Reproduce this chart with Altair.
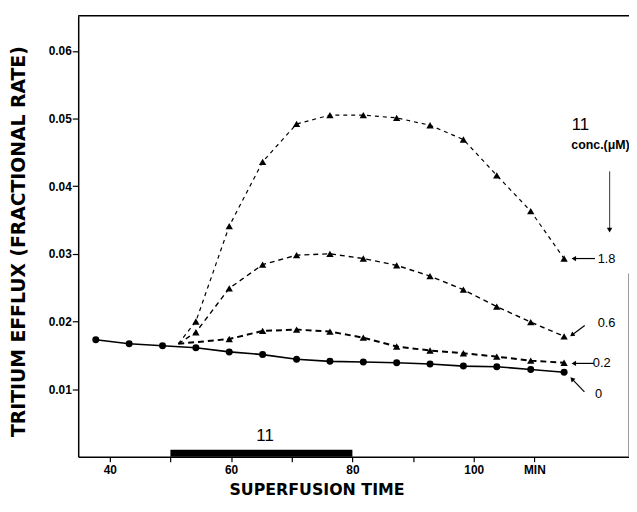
import math
import altair as alt
import pandas as pd

# ---------------- data ----------------
time = [37.7, 43.2, 48.7, 54.2, 59.7, 65.2, 70.8, 76.3, 81.8, 87.3, 92.8, 98.3, 103.8, 109.4, 114.9]
control = [0.0173, 0.0167, 0.0164, 0.0161, 0.0155, 0.0151, 0.0144, 0.0141, 0.0140,
           0.0139, 0.0137, 0.0134, 0.0133, 0.0129, 0.0125]
# drug-treated series (from the 4th sample on)
drug_time = time[3:]
conc_18 = [0.0200, 0.0341, 0.0436, 0.0492, 0.0505, 0.0505, 0.0501, 0.0490, 0.0469, 0.0416, 0.0363, 0.0293]
conc_06 = [0.0184, 0.0249, 0.0284, 0.0298, 0.0300, 0.0293, 0.0283, 0.0267, 0.0247, 0.0222, 0.0199, 0.0178]
conc_02 = [None, 0.0174, 0.0186, 0.0188, 0.0185, 0.0176, 0.0163, 0.0157, 0.0153, 0.0148, 0.0142, 0.0139]
branch_time = 51.3
branch_value = 0.0167

# drug application bar
bar_start = [50]
bar_end = [80]
bar_label = ["11"]

# concentration labels at the right
conc_labels = ["1.8", "0.6", "0.2", "0"]
conc_label_x = [121.9, 121.9, 121.1, 120.6]
conc_label_y = [0.0293, 0.0198, 0.0138, 0.0093]
arrow_tail_x = [120.0, 118.3, 119.8, 118.25]
arrow_tail_y = [0.0293, 0.0194, 0.0138, 0.0096]
arrow_head_x = [116.5, 116.2, 116.5, 116.2]
arrow_head_y = [0.0293, 0.0180, 0.0138, 0.0115]

# axis ticks
x_ticks = [40, 50, 60, 70, 80, 90, 100, 110]
y_ticks = [0.01, 0.02, 0.03, 0.04, 0.05, 0.06]

X_DOMAIN = [34.8, 125.6]
Y_DOMAIN = [0, 0.0652]
W, H = 557, 446

# ---------------- tables ----------------
ctrl_df = pd.DataFrame({"t": time, "v": control})


def drug_frames(vals):
    pts = [(t, v) for t, v in zip(drug_time, vals) if v is not None]
    line = pd.DataFrame([(branch_time, branch_value)] + pts, columns=["t", "v"])
    line["o"] = range(len(line))
    pt = pd.DataFrame(pts, columns=["t", "v"])
    return line, pt


xs = alt.Scale(domain=X_DOMAIN, nice=False, zero=False)
ys = alt.Scale(domain=Y_DOMAIN, nice=False, zero=False)

x_axis = alt.Axis(
    values=x_ticks, format="d",
    labelExpr="datum.value == 110 ? 'MIN' : (datum.value % 20 == 0 ? datum.label : '')",
    title="SUPERFUSION TIME", titleX=241, titleY=25, titleBaseline="top",
    titleAnchor="start", titleAlign="center",
    tickSize=5, labelPadding=3,
)
y_axis = alt.Axis(
    values=y_ticks, format=".2f",
    title="TRITIUM EFFLUX (FRACTIONAL RATE)", titleX=-50, titleY=228,
    titleAngle=270, titleBaseline="bottom", titleAlign="center",
    tickSize=6, labelPadding=1,
)

X = alt.X("t:Q", scale=xs, axis=x_axis)
Y = alt.Y("v:Q", scale=ys, axis=y_axis)

layers = []

# control
layers.append(alt.Chart(ctrl_df).mark_line(color="black", strokeWidth=1.6).encode(x=X, y=Y))
layers.append(alt.Chart(ctrl_df).mark_point(shape="circle", filled=True, color="black",
                                             size=50, opacity=1).encode(x=X, y=Y))

styles = [(conc_18, [4, 4], 1.2), (conc_06, [5, 4], 1.4), (conc_02, [6, 4], 2.0)]
for vals, dash, sw in styles:
    line, pt = drug_frames(vals)
    layers.append(alt.Chart(line).mark_line(color="black", strokeWidth=sw, strokeDash=dash)
                  .encode(x=X, y=Y, order="o:O"))
    layers.append(alt.Chart(pt).mark_point(shape="triangle-up", filled=True, color="black",
                                           size=55, opacity=1).encode(x=X, y=Y))

# bar showing drug application
bar_df = pd.DataFrame({"t": bar_start, "t2": bar_end, "v": [0.0], "v2": [0.00105]})
layers.append(alt.Chart(bar_df).mark_rect(color="black").encode(
    x=X, x2="t2:Q", y=Y, y2="v2:Q"))
bar_txt = pd.DataFrame({"t": [65.6], "v": [0.0031], "txt": bar_label})
layers.append(alt.Chart(bar_txt).mark_text(font="Liberation Sans", fontSize=17,
                                           baseline="middle", color="black")
              .encode(x=X, y=Y, text="txt:N"))

# frame: top line and partial right line
frame_df = pd.DataFrame({"t": [X_DOMAIN[0], X_DOMAIN[1]], "t2": [X_DOMAIN[1], X_DOMAIN[1]],
                         "v": [Y_DOMAIN[1], 0.0], "v2": [Y_DOMAIN[1], 0.0271],
                         "c": ["black", "#777777"]})
layers.append(alt.Chart(frame_df).mark_rule(strokeWidth=1.5).encode(
    x=X, x2="t2:Q", y=Y, y2="v2:Q", color=alt.Color("c:N", scale=None)))

# legend-like annotation at right
head_df = pd.DataFrame({"t": [117.6, 120.9], "v": [0.0490, 0.0461],
                        "txt": ["11", "conc.(μM)"]})
layers.append(alt.Chart(head_df.iloc[[0]]).mark_text(font="Liberation Sans", fontSize=17,
                                                     baseline="middle", color="black")
              .encode(x=X, y=Y, text="txt:N"))
layers.append(alt.Chart(head_df.iloc[[1]]).mark_text(font="Liberation Sans", fontSize=12.5,
                                                     fontWeight="bold", baseline="middle",
                                                     color="black")
              .encode(x=X, y=Y, text="txt:N"))

# vertical arrow under conc label
va = pd.DataFrame({"t": [122.4], "t2": [122.4], "v": [0.0422], "v2": [0.0335]})
layers.append(alt.Chart(va).mark_rule(color="#555555", strokeWidth=1.2).encode(
    x=X, x2="t2:Q", y=Y, y2="v2:Q"))
vah = pd.DataFrame({"t": [122.4], "v": [0.0335], "a": [180]})
layers.append(alt.Chart(vah).mark_point(shape="triangle-up", filled=True, color="black",
                                        size=30, opacity=1)
              .encode(x=X, y=Y, angle=alt.Angle("a:Q", scale=None)))

# concentration labels with arrows
px_x = W / (X_DOMAIN[1] - X_DOMAIN[0])
px_y = H / (Y_DOMAIN[1] - Y_DOMAIN[0])
angles = []
for tx, ty, hx, hy in zip(arrow_tail_x, arrow_tail_y, arrow_head_x, arrow_head_y):
    dx = (hx - tx) * px_x
    dy = -(hy - ty) * px_y
    angles.append(math.degrees(math.atan2(dx, -dy)) % 360)

lab_df = pd.DataFrame({"t": conc_label_x, "v": conc_label_y, "txt": conc_labels})
layers.append(alt.Chart(lab_df).mark_text(font="Liberation Sans", fontSize=13,
                                          baseline="middle", color="black")
              .encode(x=X, y=Y, text="txt:N"))
arr_df = pd.DataFrame({"t": arrow_tail_x, "v": arrow_tail_y,
                       "t2": arrow_head_x, "v2": arrow_head_y})
layers.append(alt.Chart(arr_df).mark_rule(color="black", strokeWidth=1.2).encode(
    x=X, x2="t2:Q", y=Y, y2="v2:Q"))
ah_df = pd.DataFrame({"t": arrow_head_x, "v": arrow_head_y, "a": angles})
layers.append(alt.Chart(ah_df).mark_point(shape="triangle-up", filled=True, color="black",
                                          size=28, opacity=1)
              .encode(x=X, y=Y, angle=alt.Angle("a:Q", scale=None)))

chart = alt.layer(*layers).properties(
    width=W, height=H,
    autosize=alt.AutoSizeParams(type="none"),
    padding={"left": 71, "top": 5, "right": 0, "bottom": 45},
).configure_view(stroke=None).configure_axis(
    grid=False,
    domainColor="black", domainWidth=1.5,
    tickColor="black", tickWidth=1.2,
    labelFont="Liberation Sans", labelFontSize=12, labelFontWeight="bold", labelColor="black",
    titleFont="DejaVu Sans", titleFontWeight="bold", titleColor="black",
).configure_axisX(titleFontSize=16).configure_axisY(titleFontSize=19)

chart.save("out.html", embed_options={"renderer": "svg", "actions": False})
